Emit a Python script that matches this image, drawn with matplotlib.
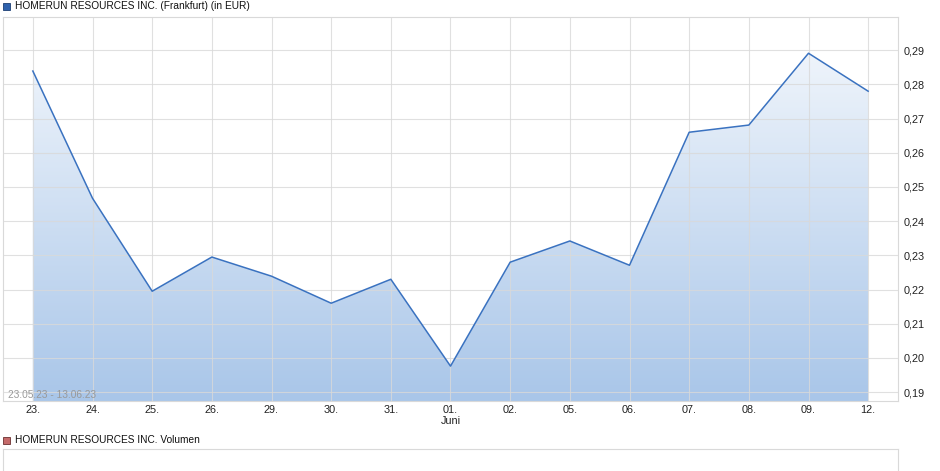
import numpy as np
import matplotlib
matplotlib.use("Agg")
import matplotlib.pyplot as plt
from matplotlib.colors import LinearSegmentedColormap

plt.rcParams['font.family'] = ['Liberation Sans', 'DejaVu Sans']

days = ["23.", "24.", "25.", "26.", "29.", "30.", "31.", "01.", "02.", "05.", "06.", "07.", "08.", "09.", "12."]
prices = [0.2839, 0.2467, 0.2195, 0.2295, 0.2239, 0.2160, 0.2230, 0.1976, 0.2280, 0.2342, 0.2271, 0.2660, 0.2681, 0.2891, 0.2780]
yticks = [0.19, 0.20, 0.21, 0.22, 0.23, 0.24, 0.25, 0.26, 0.27, 0.28, 0.29]
title = "HOMERUN RESOURCES INC. (Frankfurt) (in EUR)"
vol_title = "HOMERUN RESOURCES INC. Volumen"
date_range = "23.05.23 - 13.06.23"

W, H = 940, 471
fig = plt.figure(figsize=(W / 100, H / 100), dpi=100)

def box(l, t, r, b):
    return [l / W, 1 - b / H, (r - l) / W, (b - t) / H]

grid_c = "#d9d9d9"
ax = fig.add_axes(box(3, 17, 898, 401))
x = np.arange(len(prices))
ymin, ymax = 0.1874, 0.2997
ax.set_xlim(-0.5, len(prices) - 0.5)
ax.set_ylim(ymin, ymax)

# gradient fill under the line
cmap = LinearSegmentedColormap.from_list("g", ["#a9c6e9", "#f6f9fd"])
grad = np.linspace(0, 1, 256).reshape(-1, 1)
im = ax.imshow(grad, aspect="auto", cmap=cmap, origin="lower",
               extent=[-0.5, len(prices) - 0.5, ymin, ymax], zorder=1)
poly = ax.fill_between(x, prices, ymin, color="none", lw=0)
path = poly.get_paths()[0]
im.set_clip_path(path, transform=ax.transData)

ax.plot(x, prices, color="#3a72c0", lw=1.1, zorder=4)

ax.set_xticks(x)
ax.set_xticklabels(days)
ax.set_yticks(yticks)
ax.set_yticklabels([f"{v:.2f}".replace(".", ",") for v in yticks])
ax.yaxis.tick_right()
ax.grid(True, color=grid_c, lw=0.8, zorder=3)
ax.set_axisbelow(False)
for gl in ax.get_xgridlines() + ax.get_ygridlines():
    gl.set_zorder(3)
    gl.set_alpha(0.8)
ax.tick_params(axis="both", length=0, labelsize=7.8, colors="#222222")
ax.tick_params(axis="x", pad=3)
ax.tick_params(axis="y", pad=4)
for s in ax.spines.values():
    s.set_color(grid_c)
    s.set_linewidth(0.8)
ax.text(7, -20 / 384, "Juni", transform=ax.get_xaxis_transform(), ha="center",
        va="center", fontsize=7.8, color="#222222")
ax.text(5 / 895, 6 / 384, date_range, transform=ax.transAxes, fontsize=7.3,
        color="#999999", va="center", ha="left", zorder=5)

# legend-like headers
fig.patches.append(plt.Rectangle((3 / W, 1 - 10 / H), 7 / W, 7 / H, transform=fig.transFigure,
                                 facecolor="#2f62ad", edgecolor="#1d3f73", lw=0.6))
fig.text(15 / W, 1 - 6 / H, title, fontsize=7.3, va="center", ha="left", color="#111111")
fig.patches.append(plt.Rectangle((3 / W, 1 - 444 / H), 7 / W, 7 / H, transform=fig.transFigure,
                                 facecolor="#c56a6a", edgecolor="#6b3030", lw=0.6))
fig.text(15 / W, 1 - 440 / H, vol_title, fontsize=7.3, va="center", ha="left", color="#111111")

ax2 = fig.add_axes(box(3, 449, 898, 490))
ax2.set_xticks([])
ax2.set_yticks([])
for s in ax2.spines.values():
    s.set_color(grid_c)
    s.set_linewidth(0.8)

fig.savefig("out.png", dpi=100)
